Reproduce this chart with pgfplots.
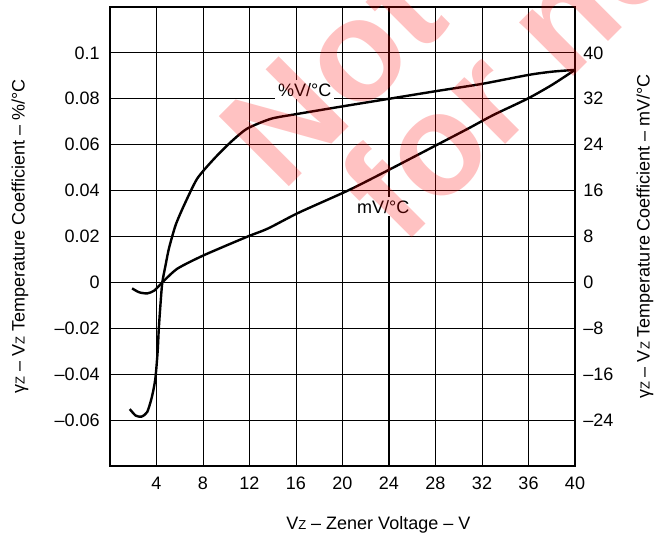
\documentclass[border=0pt]{standalone}
\usepackage{pgfplots}
\pgfplotsset{compat=1.18}
\usepackage{fontspec}
\setmainfont{Liberation Sans}
\newcommand{\sz}{{\fontsize{6.5}{7}\selectfont Z}}

% curves, both in %/degC (right axis = 400 x left axis)
\pgfplotstableread{
x y
1.7 -0.0552
2.2 -0.0580
2.7 -0.0585
3.2 -0.0565
3.6 -0.0500
3.9 -0.0420
4.1 -0.0300
4.2 -0.0200
4.35 -0.0090
4.5 0.0000
4.78 0.0075
5.07 0.0148
5.64 0.0249
6.37 0.0336
7.5 0.0452
8.96 0.0539
10.4 0.0612
11.8 0.0670
13.85 0.0713
16 0.0733
20 0.0767
24 0.0800
28 0.0833
32 0.0865
36 0.0904
38 0.0918
40 0.0926
}\pctcurve

\pgfplotstableread{
x y
1.9 -0.0026
2.5 -0.0043
3.2 -0.0048
3.8 -0.0036
4.5 0.0000
5.8 0.0060
8.1 0.0119
11.8 0.0199
13.6 0.0235
16.2 0.0303
20.5 0.0401
23.9 0.0488
28.3 0.0604
30.8 0.0670
33 0.0730
35.9 0.0800
38 0.0860
40 0.0926
}\mvcurve

\begin{document}
\fontsize{9}{11}\selectfont
\begin{tikzpicture}
\begin{axis}[
  at={(0,0)}, anchor=south west,
  scale only axis, width=232.5pt, height=229.5pt,
  xmin=0, xmax=40, ymin=-0.08, ymax=0.12,
  xtick={4,8,...,40},
  xticklabels={4,8,12,16,20,24,28,32,36,40},
  ytick={-0.06,-0.04,-0.02,0,0.02,0.04,0.06,0.08,0.1},
  yticklabels={–0.06,–0.04,–0.02,0,0.02,0.04,0.06,0.08,0.1},
  major tick length=0pt,
  grid=major,
  major grid style={black, line width=0.5pt},
  axis line style={line width=1.2pt},
  xticklabel style={yshift=-2.3pt},
  yticklabel style={xshift=-2pt},
  xlabel={V\sz\ – Zener Voltage – V},
  ylabel={γ\sz\ – V\sz\ Temperature Coefficient – \%/°C},
  every axis x label/.style={at={(axis description cs:0.577,-0.1285)}, anchor=center},
  every axis y label/.style={at={(axis description cs:-0.1935,0.5)}, rotate=90, anchor=center},
  clip=false,
]
\draw[line width=1pt] (axis cs:24,-0.08) -- (axis cs:24,0.12);
\addplot[line width=1.2pt, smooth, tension=0.4] table {\pctcurve};
\addplot[line width=1.2pt, smooth, tension=0.4] table {\mvcurve};
\node[fill=white, inner sep=1.5pt] at (axis cs:16.76,0.0839) {\%V/°C};
\node[fill=white, inner sep=1.5pt] at (axis cs:23.5,0.033) {mV/°C};
\end{axis}
\begin{axis}[
  at={(0,0)}, anchor=south west,
  scale only axis, width=232.5pt, height=229.5pt,
  xmin=0, xmax=40, ymin=-32, ymax=48,
  hide x axis, axis y line*=right,
  ytick={-24,-16,-8,0,8,16,24,32,40},
  yticklabels={–24,–16,–8,0,8,16,24,32,40},
  major tick length=0pt,
  axis line style={line width=1.2pt},
  yticklabel style={xshift=1pt},
  ylabel={γ\sz\ – V\sz\ Temperature Coefficient – mV/°C},
  every axis y label/.style={at={(axis description cs:1.1505,0.5)}, rotate=90, anchor=center},
]
\end{axis}
% watermark
\node[rotate=45, anchor=base west, text=red, text opacity=0.24,
  font=\bfseries\fontsize{72}{74}\selectfont] at (84pt,134pt) {Not recommended};
\node[rotate=45, anchor=base west, text=red, text opacity=0.24,
  font=\bfseries\fontsize{72}{74}\selectfont] at (144pt,107pt) {for new designs};
\pgfresetboundingbox
\path[use as bounding box] (-55pt,-36.5pt) rectangle (273pt,233pt);
\end{tikzpicture}
\end{document}
